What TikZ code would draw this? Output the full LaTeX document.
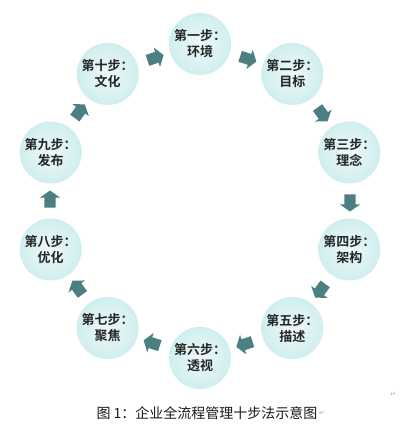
\documentclass[tikz,border=0pt]{standalone}
\usepackage{fontspec}
\newfontfamily\cjk{Noto Sans CJK SC}[BoldFont={Noto Sans CJK SC Bold}]
\newfontfamily\retfont{DejaVu Sans}
\usetikzlibrary{shapes.arrows}

\definecolor{stepfill}{HTML}{D0EEEE}
\definecolor{stepcore}{HTML}{EEF9F9}
\definecolor{arrowfill}{HTML}{4C7F82}

\tikzset{
  stepcircle/.style={circle, minimum size=62pt, inner sep=0pt, inner color=stepcore, outer color=stepfill,
    align=center, text=black!85, font=\cjk\bfseries\fontsize{13}{16}\selectfont},
  steparrow/.style={single arrow, fill=arrowfill, inner sep=5.5pt, minimum height=17pt, minimum width=20pt,
    single arrow head extend=4.5pt, single arrow tip angle=110},
  retmark/.style={text=black!35, font=\retfont\fontsize{7}{8}\selectfont, inner sep=0pt}
}

\begin{document}
\begin{tikzpicture}[x=1pt,y=1pt]
    \useasboundingbox (0,0) rectangle (418,439);

    \begin{scope}[shift={(200,238)}]
        % the ten steps
        \node[stepcircle] (s1) at (90:157) {第一步：\\环境};
        \node[stepcircle] (s2) at (54:157) {第二步：\\目标};
        \node[stepcircle] (s3) at (18:157) {第三步：\\理念};
        \node[stepcircle] (s4) at (-18:157) {第四步：\\架构};
        \node[stepcircle] (s5) at (-54:157) {第五步：\\描述};
        \node[stepcircle] (s6) at (-90:157) {第六步：\\透视};
        \node[stepcircle] (s7) at (-126:157) {第七步：\\聚焦};
        \node[stepcircle] (s8) at (-162:157) {第八步：\\优化};
        \node[stepcircle] (s9) at (162:157) {第九步：\\发布};
        \node[stepcircle] (s10) at (126:157) {第十步：\\文化};

        % arrows between steps
        \node[steparrow, rotate=-18] (a1) at (72:150) {};
        \node[steparrow, rotate=-54] (a2) at (36:150) {};
        \node[steparrow, rotate=-90] (a3) at (0:150) {};
        \node[steparrow, rotate=-126] (a4) at (-36:150) {};
        \node[steparrow, rotate=-162] (a5) at (-72:150) {};
        \node[steparrow, rotate=162] (a6) at (-108:150) {};
        \node[steparrow, rotate=126] (a7) at (-144:150) {};
        \node[steparrow, rotate=90] (a8) at (180:150) {};
        \node[steparrow, rotate=54] (a9) at (144:150) {};
        \node[steparrow, rotate=18] (a10) at (108:150) {};
    \end{scope}

    % caption
    \node[font=\cjk\fontsize{14}{16}\selectfont, text=black!90, inner sep=0pt] (caption) at (207,26) {图 1：企业全流程管理十步法示意图};
    \node[retmark, anchor=west] (ret1) at ([xshift=1pt]caption.east) {↵};
    \node[retmark] (ret2) at (393,45) {↵};
\end{tikzpicture}
\end{document}
